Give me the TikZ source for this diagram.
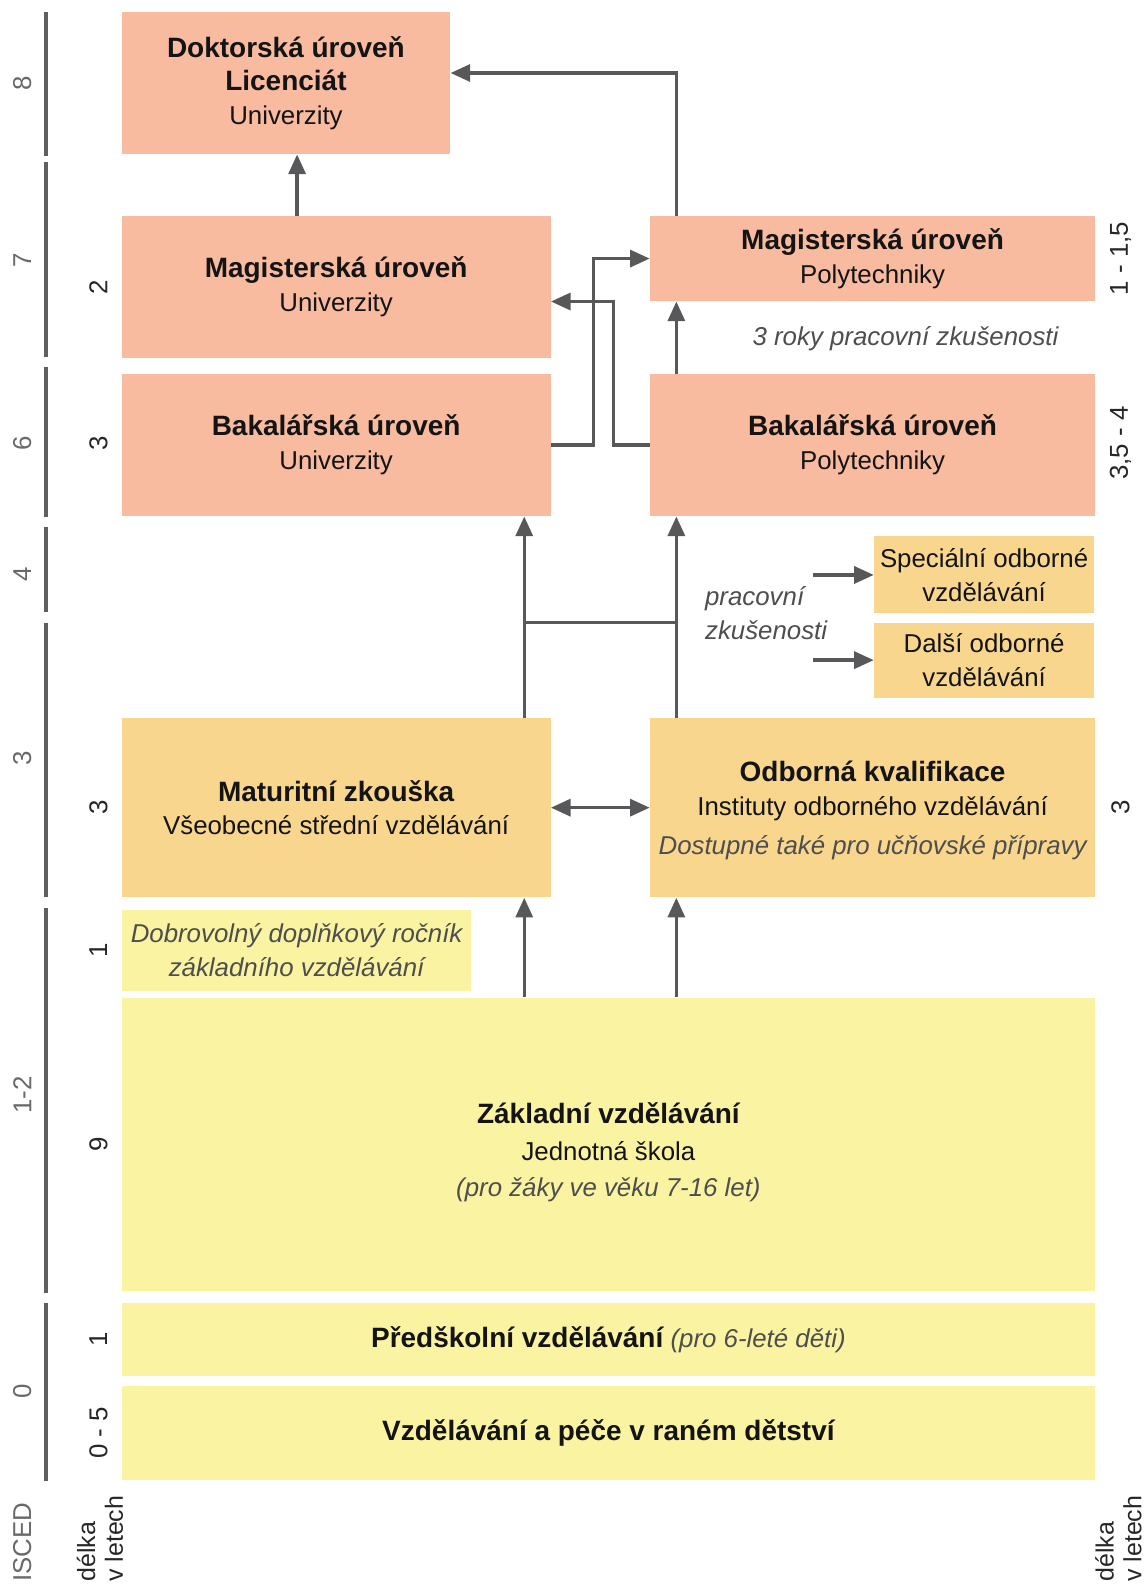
\documentclass[tikz,border=0pt]{standalone}
\usepackage{fontspec}
\setmainfont{Liberation Sans}
\usepackage{xcolor}
\usepackage{tikz}
\usetikzlibrary{calc,arrows.meta,positioning}
\definecolor{salmon}{RGB}{248,187,159}
\definecolor{apricot}{RGB}{248,214,142}
\definecolor{lemon}{RGB}{250,243,162}
\definecolor{flowgray}{RGB}{88,88,90}
\definecolor{bargray}{RGB}{95,95,95}
\definecolor{iscedgray}{RGB}{105,105,105}
\definecolor{notegray}{RGB}{78,78,78}
\newcommand{\hd}[1]{{\fontsize{15.7}{19}\selectfont\bfseries #1}}
\newcommand{\nt}[1]{{\color{notegray}\itshape #1}}
\tikzset{
  level/.style={inner sep=0pt, align=center, text=black!92,
    font=\fontsize{14.5}{19}\selectfont},
  flow/.style={line width=1.9pt, flowgray, -{Triangle[length=11pt,width=9.5pt]}},
  twoway/.style={line width=1.9pt, flowgray, {Triangle[length=11pt,width=9.5pt]}-{Triangle[length=11pt,width=9.5pt]}},
  plain/.style={line width=1.9pt, flowgray},
  scalebar/.style={line width=2.2pt, bargray},
  iscednum/.style={rotate=90, text=iscedgray, font=\fontsize{14.5}{17}\selectfont},
  yearnum/.style={rotate=90, text=black!85, font=\fontsize{14.5}{17}\selectfont}
}
\begin{document}
\begin{tikzpicture}[x=0.02cm, y=-0.02cm]
        \useasboundingbox (0,0) rectangle (1130,1568);
        % columns of the connectors
        \coordinate (c1) at (293,0);
        \coordinate (c2) at (517,0);
        \coordinate (c3) at (667,0);
        \coordinate (c4) at (585,0);
        \coordinate (c5) at (605,0);
        \coordinate (r1) at (0,72);
        \coordinate (r2) at (0,614);
        \coordinate (s1) at (802,567);
        \coordinate (s2) at (802,651);

        % tertiary level
        \node[level, fill=salmon, minimum width=6.48cm, minimum height=2.80cm] (doc) at (282,82)
            {\hd{Doktorská úroveň}\\\hd{Licenciát}\\Univerzity};
        \node[level, fill=salmon, minimum width=8.46cm, minimum height=2.80cm] (magU) at (331.5,283)
            {\hd{Magisterská úroveň}\\Univerzity};
        \node[level, fill=salmon, minimum width=8.78cm, minimum height=1.68cm] (magP) at (860.5,255)
            {\hd{Magisterská úroveň}\\Polytechniky};
        \node[level, fill=salmon, minimum width=8.46cm, minimum height=2.80cm] (bakU) at (331.5,439)
            {\hd{Bakalářská úroveň}\\Univerzity};
        \node[level, fill=salmon, minimum width=8.78cm, minimum height=2.80cm] (bakP) at (860.5,439)
            {\hd{Bakalářská úroveň}\\Polytechniky};
        % secondary level
        \node[level, fill=apricot, minimum width=4.34cm, minimum height=1.52cm] (spec) at (970.5,567)
            {Speciální odborné\\vzdělávání};
        \node[level, fill=apricot, minimum width=4.34cm, minimum height=1.48cm] (dalsi) at (970.5,651)
            {Další odborné\\vzdělávání};
        \node[level, fill=apricot, minimum width=8.46cm, minimum height=3.54cm] (mat) at (331.5,796.5)
            {\hd{Maturitní zkouška}\\Všeobecné střední vzdělávání};
        \node[level, fill=apricot, minimum width=8.78cm, minimum height=3.54cm] (odb) at (860.5,796.5) {};
        \node[level] (odbtext) at (860.5,799)
            {\hd{Odborná kvalifikace}\\Instituty odborného vzdělávání\\[3pt]\nt{Dostupné také pro učňovské přípravy}};
        % basic level
        \node[level, fill=lemon, minimum width=6.90cm, minimum height=1.60cm] (dobr) at (292.5,937)
            {\nt{Dobrovolný doplňkový ročník}\\\nt{základního vzdělávání}};
        \node[level, fill=lemon, minimum width=19.20cm, minimum height=5.78cm] (zakl) at (600,1128.5) {};
        \node[level] (zakltext) at (600,1136)
            {\hd{Základní vzdělávání}\\[2pt]Jednotná škola\\[1pt]\nt{(pro žáky ve věku 7-16 let)}};
        \node[level, fill=lemon, minimum width=19.20cm, minimum height=1.44cm] (pred) at (600,1321)
            {\hd{Předškolní vzdělávání} \nt{(pro 6-leté děti)}};
        \node[level, fill=lemon, minimum width=19.20cm, minimum height=1.86cm] (vzd) at (600,1413.5)
            {\hd{Vzdělávání a péče v raném dětství}};

        % Notes
        \node[level, draw=none] (praxe3) at (893,334) {\nt{3 roky pracovní zkušenosti}};
        \node[level, draw=none, anchor=west, align=left] (praxe) at (695,605)
            {\nt{pracovní}\\\nt{zkušenosti}};

        % Connectors
        \draw[flow] (magU.north -| c1) -- (doc.south -| c1);
        \draw[flow] (magP.north -| c3) |- (doc.east |- r1);
        \draw[flow] (bakU.east) -| (c4 |- magP.west) -- (magP.west);
        \draw[flow] (bakP.west) -| (c5 |- magP.south) -- (magU.east |- magP.south);
        \draw[flow] (bakP.north -| c3) -- (magP.south -| c3);
        \draw[flow] (mat.north -| c2) -- (bakU.south -| c2);
        \draw[flow] (odb.north -| c3) -- (bakP.south -| c3);
        \draw[plain] (c2 |- r2) -- (c3 |- r2);
        \draw[flow] (s1) -- (spec.west);
        \draw[flow] (s2) -- (dalsi.west);
        \draw[twoway] (mat.east) -- (odb.west);
        \draw[flow] (zakl.north -| c2) -- (mat.south -| c2);
        \draw[flow] (zakl.north -| c3) -- (odb.south -| c3);

        % ISCED scale
        \foreach \a/\b in {12/154,160/352,362/510,520/604,614/885,895/1275,1285/1460}
            \draw[scalebar] (45,\a) -- (45,\b);
        \foreach \y/\t [count=\i] in {82/8,257/7,437/6,566/4,748/3,1080/1-2,1372/0}
            \node[iscednum] (isc\i) at (22,\y) {\t};
        % lengths in years
        \foreach \y/\t [count=\i] in {283/2,437/3,796/3,937/1,1128/9,1321/1,1413/0 - 5}
            \node[yearnum] (len\i) at (97,\y) {\t};
        \foreach \y/\t [count=\i] in {255/1 - 1{,}5,437/3{,}5 - 4,796/3}
            \node[yearnum] (rlen\i) at (1105,\y) {\t};

        % Labels
        \node[iscednum, anchor=west] (iscedlab) at (22,1566) {ISCED};
        \node[yearnum, anchor=west, align=left, font=\fontsize{14}{15.5}\selectfont] (lenlab) at (98.5,1566) {délka\\v letech};
        \node[yearnum, anchor=west, align=left, font=\fontsize{14}{15.5}\selectfont] (rlenlab) at (1103,1566) {délka\\v letech};
    \end{tikzpicture}
\end{document}
